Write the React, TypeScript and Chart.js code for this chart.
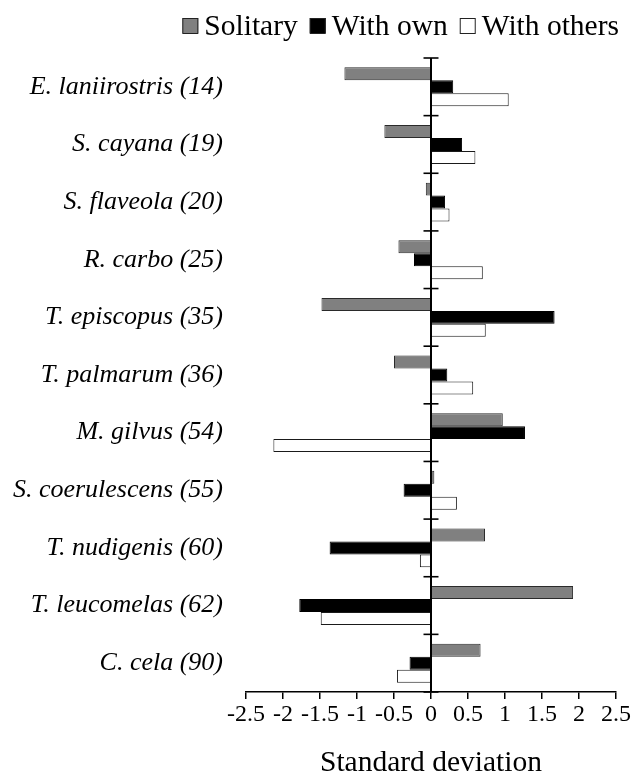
import React, { useEffect, useRef } from "react";
import { Chart, registerables } from "chart.js";

Chart.register(...registerables);

const categories = [
  "E. laniirostris (14)",
  "S. cayana (19)",
  "S. flaveola (20)",
  "R. carbo (25)",
  "T. episcopus (35)",
  "T. palmarum (36)",
  "M. gilvus (54)",
  "S. coerulescens (55)",
  "T. nudigenis (60)",
  "T. leucomelas (62)",
  "C. cela (90)",
];
const solitary = [-1.17, -0.63, -0.07, -0.44, -1.48, -0.5, 0.97, 0.045, 0.73, 1.92, 0.67];
const withOwn = [0.3, 0.42, 0.19, -0.23, 1.67, 0.22, 1.27, -0.37, -1.37, -1.78, -0.29];
const withOthers = [1.05, 0.6, 0.25, 0.7, 0.74, 0.57, -2.13, 0.35, -0.15, -1.49, -0.46];
const seriesNames = ["Solitary", "With own", "With others"];
const xTickValues = [-2.5, -2, -1.5, -1, -0.5, 0, 0.5, 1, 1.5, 2, 2.5];
const axisTitle = "Standard deviation";

const FONT = '"Liberation Serif", "Times New Roman", serif';

const zeroLinePlugin = {
  id: "zeroLine",
  afterDatasetsDraw(chart: any) {
    const { ctx, scales } = chart;
    const x = scales.x;
    const y = scales.y;
    const x0 = x.getPixelForValue(0);
    ctx.save();
    ctx.strokeStyle = "#000";
    ctx.lineWidth = 2;
    ctx.beginPath();
    ctx.moveTo(x0, y.getPixelForValue(-0.5));
    ctx.lineTo(x0, y.getPixelForValue(categories.length - 0.5));
    ctx.stroke();
    ctx.lineWidth = 1.6;
    for (let i = 0; i <= categories.length; i++) {
      const py = y.getPixelForValue(i - 0.5);
      ctx.beginPath();
      ctx.moveTo(x0 - 7.5, py);
      ctx.lineTo(x0 + 7.5, py);
      ctx.stroke();
    }
    ctx.restore();
  },
};

const legendPlugin = {
  id: "customLegend",
  afterDraw(chart: any) {
    const { ctx } = chart;
    const ds = chart.data.datasets;
    ctx.save();
    ctx.font = `29.5px ${FONT}`;
    ctx.textBaseline = "alphabetic";
    const box = 16;
    const gapText = 6;
    const gapItem = 12;
    const widths = ds.map((d: any) => ctx.measureText(d.label).width);
    let total = 0;
    widths.forEach((w: number, i: number) => {
      total += box + gapText + w + (i < widths.length - 1 ? gapItem : 0);
    });
    let cx = 611 - total;
    const baseline = 27;
    ds.forEach((d: any, i: number) => {
      ctx.fillStyle = d.backgroundColor;
      ctx.fillRect(cx, 10, box, box - 1);
      ctx.strokeStyle = "#222";
      ctx.lineWidth = 1;
      ctx.strokeRect(cx + 0.5, 10.5, box - 1, box - 1);
      cx += box + gapText;
      ctx.fillStyle = "#000";
      ctx.fillText(d.label, cx, baseline);
      cx += widths[i] + gapItem;
    });
    ctx.restore();
  },
};

export default function App() {
  const ref = useRef<HTMLCanvasElement>(null);
  useEffect(() => {
    if (!ref.current) return;
    const chart = new Chart(ref.current, {
      type: "bar",
      data: {
        labels: categories,
        datasets: [
          { label: seriesNames[0], data: solitary, backgroundColor: "#808080", borderColor: "#2a2a2a", borderWidth: 1 },
          { label: seriesNames[1], data: withOwn, backgroundColor: "#000000", borderColor: "#000000", borderWidth: 1 },
          { label: seriesNames[2], data: withOthers, backgroundColor: "#ffffff", borderColor: "#1a1a1a", borderWidth: 1 },
        ],
      },
      options: {
        indexAxis: "y",
        responsive: false,
        animation: false,
        events: [],
        layout: { padding: { top: 50, right: 18, left: 0, bottom: 0 } },
        datasets: { bar: { categoryPercentage: 0.675, barPercentage: 1 } },
        plugins: {
          legend: { display: false },
          tooltip: { enabled: false },
          title: { display: false },
        },
        scales: {
          x: {
            type: "linear",
            min: -2.5,
            max: 2.5,
            afterBuildTicks(scale: any) {
              scale.ticks = xTickValues.map((v) => ({ value: v }));
            },
            afterFit(scale: any) {
              scale.height = 86;
            },
            ticks: {
              callback: (v: any) => String(v),
              color: "#000",
              font: { family: FONT, size: 24 },
              padding: 1,
              maxRotation: 0,
              autoSkip: false,
            },
            grid: {
              display: true,
              drawOnChartArea: false,
              drawTicks: true,
              tickLength: 7,
              color: "#000",
              lineWidth: 1.5,
            },
            border: { display: true, color: "#000", width: 1.5 },
            title: {
              display: true,
              text: axisTitle,
              color: "#000",
              font: { family: FONT, size: 29.5 },
              padding: { top: 0, bottom: -3 },
            },
          },
          y: {
            type: "category",
            afterFit(scale: any) {
              scale.width = 238;
            },
            ticks: {
              color: "#000",
              font: { family: FONT, size: 26, style: "italic" },
              padding: 23,
              autoSkip: false,
            },
            grid: { display: false, drawTicks: false },
            border: { display: false },
          },
        },
      },
      plugins: [zeroLinePlugin, legendPlugin],
    });
    return () => chart.destroy();
  }, []);
  return <canvas ref={ref} width={626} height={770} />;
}
